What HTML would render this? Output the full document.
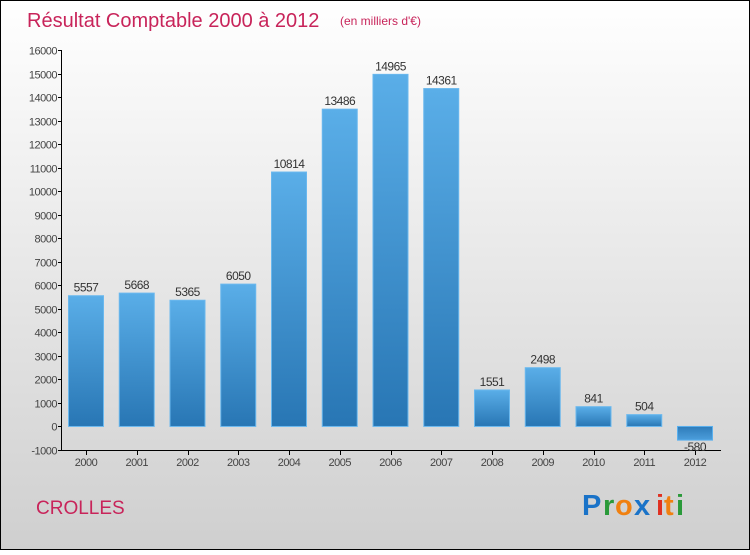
<!DOCTYPE html>
<html><head><meta charset="utf-8"><style>
body{margin:0}
#c{width:750px;height:550px;position:relative;font-family:"Liberation Sans",sans-serif}
</style></head><body>
<div id="c">
<svg id="s" width="750" height="550" xmlns="http://www.w3.org/2000/svg">
<defs>
<linearGradient id="bg" x1="0" y1="0" x2="0" y2="1"><stop offset="0" stop-color="#ffffff"/><stop offset="1" stop-color="#cfcfcf"/></linearGradient>
<linearGradient id="bar" x1="0" y1="0" x2="0" y2="1"><stop offset="0" stop-color="#5aaee8"/><stop offset="1" stop-color="#2876b4"/></linearGradient>
<linearGradient id="barn" x1="0" y1="0" x2="0" y2="1"><stop offset="0" stop-color="#2e7cba"/><stop offset="1" stop-color="#4c9edc"/></linearGradient>
</defs>
<rect x="0.5" y="0.5" width="749" height="549" fill="url(#bg)" stroke="#000"/>
<text x="27" y="27" font-size="20" fill="#c8245a" font-weight="300">Résultat Comptable 2000 à 2012</text>
<text x="340" y="25" font-size="12" fill="#c8245a">(en milliers d'€)</text>
<text x="36" y="514" font-size="19" fill="#c8245a">CROLLES</text>
<g font-size="29" font-family="'Liberation Sans',sans-serif" font-weight="bold">
<text x="582" y="515" fill="#1a73c8">P</text><text x="603" y="515" fill="#2a9a3a">r</text><text x="615" y="515" fill="#f08010">o</text><text x="634" y="515" fill="#1a73c8">x</text><text x="656" y="515" fill="#e03020">i</text><text x="664" y="515" fill="#f08010">t</text><text x="676" y="515" fill="#2a9a3a">i</text>
</g>
<g id="plot"></g>
</svg>
</div>
<script>
const categories=["2000","2001","2002","2003","2004","2005","2006","2007","2008","2009","2010","2011","2012"];
const values=[5557,5668,5365,6050,10814,13486,14965,14361,1551,2498,841,504,-580];
const yTicks=[-1000,0,1000,2000,3000,4000,5000,6000,7000,8000,9000,10000,11000,12000,13000,14000,15000,16000];
const NS="http://www.w3.org/2000/svg";
const plotG=document.getElementById('plot');
const yMin=-1000,yMax=16000,plotTop=50,plotBot=450;
function yScale(v){return plotBot-(v-yMin)/(yMax-yMin)*(plotBot-plotTop);}
function xScale(i){return 86+i*50.75;}
function mk(t,a,txt){const e=document.createElementNS(NS,t);for(const k in a)e.setAttribute(k,a[k]);if(txt!==undefined)e.textContent=txt;plotG.appendChild(e);return e;}
let ax=mk('line',{x1:61.5,y1:plotTop,x2:61.5,y2:plotBot,stroke:'#000'});


ax=mk('line',{x1:61,y1:plotBot+0.5,x2:721,y2:plotBot+0.5,stroke:'#000'});


yTicks.forEach(v=>{
  const yy=Math.round(yScale(v))+0.5;
  let t=mk('line',{x1:58,y1:yy,x2:62,y2:yy,stroke:'#000'});
  
  
  let l=mk('text',{x:57,y:yy+4,'font-size':11,'text-anchor':'end',fill:'#444','letter-spacing':'-0.5'},String(v));
  
  
});
categories.forEach((c,i)=>{
  const cx=xScale(i),v=values[i];
  const y0=yScale(0),y1=yScale(v);
  let r=mk('rect',{x:cx-17.5,y:Math.min(y0,y1),width:35,height:Math.max(1,Math.abs(y0-y1)),fill:v<0?'url(#barn)':'url(#bar)',stroke:v<0?'#5ab0ee':'#6ab8ee','stroke-width':1});
  
  
  let t=mk('line',{x1:Math.round(cx)+0.5,y1:plotBot,x2:Math.round(cx)+0.5,y2:plotBot+5,stroke:'#000'});
  
  
  let l=mk('text',{x:cx,y:466,'font-size':11,'text-anchor':'middle',fill:'#444','letter-spacing':'-0.5'},c);
  
  
  let vl=mk('text',{x:cx,y:v<0?y1+11:y1-4,'font-size':12,'text-anchor':'middle',fill:'#333','letter-spacing':'-0.5'},String(v));
  
  
});
</script>
</body></html>
